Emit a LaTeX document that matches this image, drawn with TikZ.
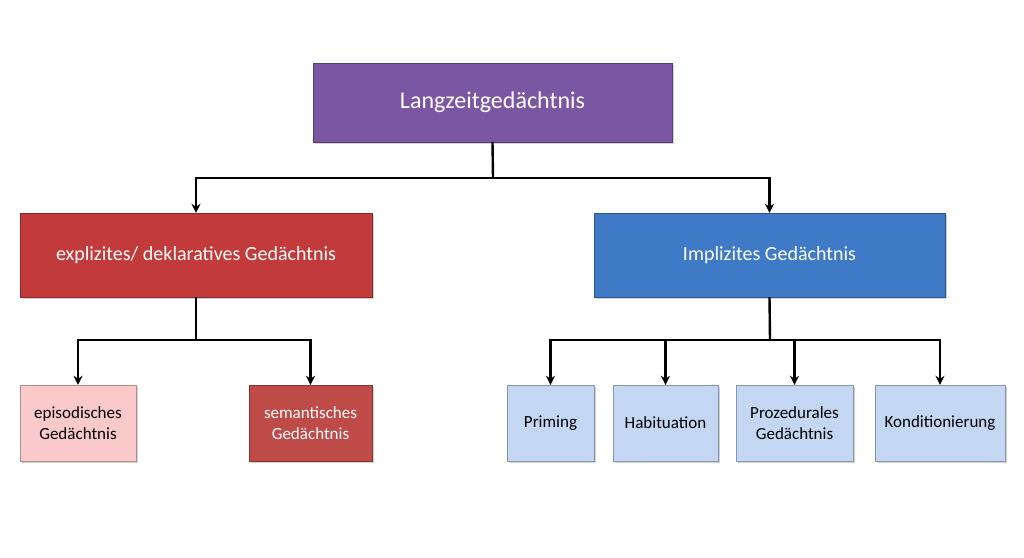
\documentclass[tikz,border=0pt]{standalone}
\usepackage{fontspec}
\setmainfont{Carlito}
\usetikzlibrary{shadows,arrows.meta}
\definecolor{lilac}{HTML}{7B57A3}
\definecolor{rot}{HTML}{C33A3A}
\definecolor{blau}{HTML}{3E7AC6}
\definecolor{rosa}{HTML}{FAC9C9}
\definecolor{dunkelrot}{HTML}{BE4B48}
\definecolor{hellblau}{HTML}{C3D7F2}
\tikzset{
  box/.style={draw=#1!70!black,fill=#1,inner sep=0pt,align=center,
    drop shadow={shadow xshift=2pt,shadow yshift=-2pt,opacity=.35}},
  link/.style={line width=2.4pt},
  pfeil/.style={line width=2.4pt,-{Stealth[length=9pt,width=9pt]}}
}
\begin{document}
\begin{tikzpicture}[x=1pt,y=-1pt]
\useasboundingbox[fill=white] (0,0) rectangle (1024,557);
% oberste Ebene
\node[box=lilac,minimum width=359pt,minimum height=79pt,text=white,font=\fontsize{24}{28}\selectfont]
  (lzg) at (492.5,102.5) {Langzeitgedächtnis};
% zweite Ebene
\node[box=rot,minimum width=352pt,minimum height=84pt,text=white,font=\fontsize{20}{24}\selectfont]
  (expl) at (196,255) {explizites/ deklaratives Gedächtnis};
\node[box=blau,minimum width=351pt,minimum height=84pt,text=white,font=\fontsize{20}{24}\selectfont]
  (impl) at (769.5,255) {Implizites Gedächtnis};
% dritte Ebene
\node[box=rosa,minimum width=116pt,minimum height=76pt,font=\fontsize{17}{21}\selectfont]
  (epi) at (78,423) {episodisches\\Gedächtnis};
\node[box=dunkelrot,minimum width=123pt,minimum height=76pt,text=white,font=\fontsize{17}{21}\selectfont]
  (sem) at (310.5,423) {semantisches\\Gedächtnis};
\foreach \n/\x/\w/\t in {prim/550.5/87/Priming, hab/665.5/105/Habituation,
    proz/794.5/117/{Prozedurales\\Gedächtnis}, kond/940/130/Konditionierung}
  \node[box=hellblau,minimum width=\w pt,minimum height=76pt,font=\fontsize{17}{21}\selectfont]
    (\n) at (\x,423) {\t};
% Verbindungen
\coordinate (k1) at (493,178);
\coordinate (k2) at (196,340);
\coordinate (k3) at (770,340);
\draw[link] (lzg.south) -- (k1);
\draw[pfeil] (k1) -| (expl.north);
\draw[pfeil] (k1) -| (impl.north);
\draw[link] (expl.south) -- (k2);
\draw[pfeil] (k2) -| (epi.north);
\draw[pfeil] (k2) -| (sem.north);
\draw[link] (impl.south) -- (k3);
\foreach \n in {prim,hab,proz,kond}
  \draw[pfeil] (k3) -| (\n.north);
\end{tikzpicture}
\end{document}
